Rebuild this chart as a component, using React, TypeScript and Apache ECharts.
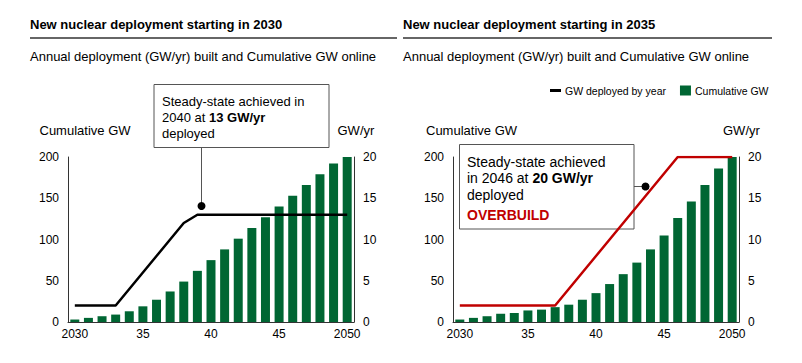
import { useEffect, useRef } from "react";
import * as echarts from "echarts";

const years = ["2030","2031","2032","2033","2034","2035","2036","2037","2038","2039","2040","2041","2042","2043","2044","2045","2046","2047","2048","2049","2050"];
const leftAnnual = [2,2,2,2,4,6,8,10,12,13,13,13,13,13,13,13,13,13,13,13,13];
const leftCumulative = [3,5,7,9,13,19,27,37,49,62,75,88,101,114,127,140,153,166,179,192,200];
const rightAnnual = [2,2,2,2,2,2,2,2,4,6,8,10,12,14,16,18,20,20,20,20,20];
const rightCumulative = [3,5,7,10,11,14,15,18,21,27,35,46,58,72,88,105,126,146,166,186,200];
const cumulativeAxis = { min: 0, max: 200, interval: 50 };
const annualAxis = { min: 0, max: 20, interval: 5 };

const FONT = "'Liberation Sans', Arial, sans-serif";
const GREEN = "#006633";
const RED = "#C00000";
const LINE_ICON = "path://M0,0h0.01v0.01h-0.01z M0,3.5h11v3h-11z M10.99,9.99h0.01v0.01h-0.01z";

function txt(x: number, y: number, text: string, size: number, opts: any = {}) {
  return {
    type: "text",
    x,
    y,
    z: 10,
    style: {
      text,
      fill: opts.fill || "#000",
      fontSize: size,
      fontFamily: FONT,
      fontWeight: opts.bold ? "bold" : "normal",
      align: opts.align || "left",
      verticalAlign: "middle",
      textAlign: opts.align || "left",
      textVerticalAlign: "middle",
      rich: opts.rich,
    },
  };
}

export default function App() {
  const ref = useRef<HTMLDivElement>(null);
  useEffect(() => {
    document.body.style.margin = "0";
    const chart = echarts.init(ref.current!, null, { renderer: "svg" });
    const xAxisBase = (gridIndex: number) => ({
      type: "category",
      gridIndex,
      data: years,
      boundaryGap: true,
      axisLine: { show: true, lineStyle: { color: "#333", width: 1 } },
      axisTick: { show: false },
      axisLabel: {
        interval: 4,
        margin: 6,
        color: "#000",
        fontSize: 12,
        fontFamily: FONT,
        formatter: (v: string, i: number) => (i === 0 || i === years.length - 1 ? v : v.slice(2)),
      },
      splitLine: { show: false },
    });
    const yAxisBase = (gridIndex: number, pos: "left" | "right", cfg: any) => ({
      type: "value",
      gridIndex,
      position: pos,
      min: cfg.min,
      max: cfg.max,
      interval: cfg.interval,
      axisLine: { show: true, lineStyle: { color: "#333", width: 1 } },
      axisTick: { show: false },
      splitLine: { show: false },
      axisLabel: { color: "#000", fontSize: 12, fontFamily: FONT, margin: 9 },
    });
    const rich = (size: number) => ({
      b: { fontWeight: "bold", fontSize: size, fontFamily: FONT, fill: "#000", color: "#000" },
    });
    chart.setOption({
      animation: false,
      grid: [
        { left: 68, top: 157, width: 286, height: 165 },
        { left: 453, top: 157, width: 286, height: 165 },
      ],
      xAxis: [xAxisBase(0), xAxisBase(1)],
      yAxis: [
        yAxisBase(0, "left", cumulativeAxis),
        yAxisBase(0, "right", annualAxis),
        yAxisBase(1, "left", cumulativeAxis),
        yAxisBase(1, "right", annualAxis),
      ],
      legend: {
        left: 545,
        top: 80,
        itemWidth: 11,
        itemHeight: 10,
        itemGap: 14,
        textStyle: { fontSize: 10.5, fontFamily: FONT, color: "#000", padding: [0, 0, 0, -1] },
        data: [
          { name: "GW deployed by year", icon: LINE_ICON, itemStyle: { color: "#000", borderWidth: 0 } },
          { name: "Cumulative GW", icon: "rect" },
        ],
      },
      series: [
        {
          name: "Cumulative GW",
          type: "bar",
          xAxisIndex: 0,
          yAxisIndex: 0,
          data: leftCumulative,
          barCategoryGap: "34%",
          itemStyle: { color: GREEN },
        },
        {
          name: "GW deployed by year",
          type: "line",
          xAxisIndex: 0,
          yAxisIndex: 1,
          data: leftAnnual,
          symbol: "none",
          lineStyle: { color: "#000", width: 2.5 },
          itemStyle: { color: "#000" },
          z: 3,
        },
        {
          name: "Cumulative GW",
          type: "bar",
          xAxisIndex: 1,
          yAxisIndex: 2,
          data: rightCumulative,
          barCategoryGap: "34%",
          itemStyle: { color: GREEN },
        },
        {
          name: "GW deployed by year",
          type: "line",
          xAxisIndex: 1,
          yAxisIndex: 3,
          data: rightAnnual,
          symbol: "none",
          lineStyle: { color: RED, width: 2.5 },
          itemStyle: { color: RED },
          z: 3,
        },
      ],
      graphic: [
        txt(30, 24.5, "New nuclear deployment starting in 2030", 13, { bold: true }),
        txt(403, 24.5, "New nuclear deployment starting in 2035", 13, { bold: true }),
        { type: "line", shape: { x1: 30, y1: 38, x2: 397, y2: 38 }, style: { stroke: "#333", lineWidth: 1.5 } },
        { type: "line", shape: { x1: 403, y1: 38, x2: 772, y2: 38 }, style: { stroke: "#333", lineWidth: 1.5 } },
        txt(30, 56.5, "Annual deployment (GW/yr) built and Cumulative GW online", 13),
        txt(403, 56.5, "Annual deployment (GW/yr) built and Cumulative GW online", 13),
        txt(39.5, 130, "Cumulative GW", 13),
        txt(337.5, 130, "GW/yr", 13),
        txt(426, 130, "Cumulative GW", 13),
        txt(723, 130, "GW/yr", 13),
        // left annotation
        { type: "rect", z: 1, shape: { x: 154, y: 84.5, width: 175, height: 63 }, style: { fill: "#fff", stroke: "#555", lineWidth: 1 } },
        txt(162, 101.5, "Steady-state achieved in", 13),
        txt(162, 117.5, "2040 at {b|13 GW/yr}", 13, { rich: rich(13) }),
        txt(162, 133.5, "deployed", 13),
        { type: "line", shape: { x1: 201.5, y1: 147.5, x2: 201.5, y2: 206 }, style: { stroke: "#555", lineWidth: 1 } },
        { type: "circle", z: 5, shape: { cx: 201.5, cy: 206, r: 4 }, style: { fill: "#000" } },
        // right annotation
        { type: "rect", z: 1, shape: { x: 459.5, y: 144.5, width: 174.5, height: 84.5 }, style: { fill: "none", stroke: "#555", lineWidth: 1 } },
        txt(467, 161.5, "Steady-state achieved", 14),
        txt(467, 178, "in 2046 at {b|20 GW/yr}", 14, { rich: rich(14) }),
        txt(467, 194.5, "deployed", 14),
        txt(467, 215, "OVERBUILD", 14, { bold: true, fill: RED }),
        { type: "line", shape: { x1: 634, y1: 186.5, x2: 645.5, y2: 186.5 }, style: { stroke: "#555", lineWidth: 1 } },
        { type: "circle", z: 5, shape: { cx: 645.5, cy: 186.5, r: 4 }, style: { fill: "#000" } },
      ],
    });
    return () => chart.dispose();
  }, []);
  return <div ref={ref} style={{ width: 802, height: 363 }} />;
}
